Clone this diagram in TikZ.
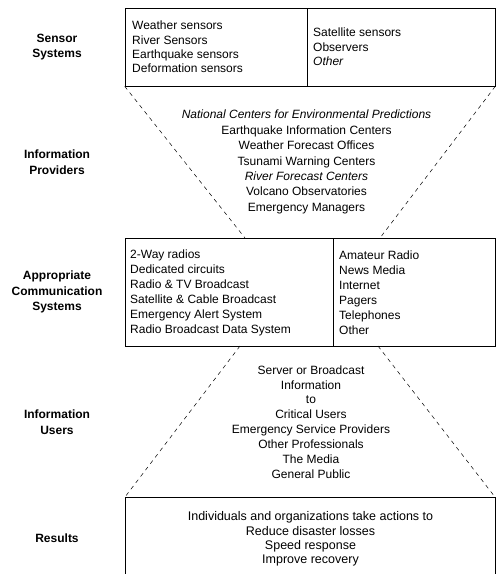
\documentclass[tikz,border=0pt]{standalone}
\usepackage{fontspec}
\setmainfont{Liberation Sans}
\begin{document}
\begin{tikzpicture}[x=1pt,y=-1pt,
  box/.style={draw, line width=0.6pt, inner sep=0pt},
  conn/.style={line width=0.5pt, dash pattern=on 4pt off 4pt},
  rowlabel/.style={font=\fontsize{12}{15.5}\selectfont\bfseries, align=center, inner sep=0pt},
  listtxt/.style={font=\fontsize{12}{14.4}\selectfont, align=left, inner sep=0pt, anchor=west},
  commtxt/.style={font=\fontsize{12}{15}\selectfont, align=left, inner sep=0pt, anchor=west},
  midtxt/.style={font=\fontsize{12}{15.2}\selectfont, align=center, inner sep=0pt}]
\useasboundingbox (0,0) rectangle (499,574);
% boxes
\node[box, minimum width=370pt, minimum height=78pt] (sensors) at (310,47) {};
\draw[line width=0.6pt] (307,8) -- (307,86);
\node[box, minimum width=370pt, minimum height=108pt] (comms) at (310,292) {};
\draw[line width=0.6pt] (333,238) -- (333,346);
\coordinate (resNW) at (125,497);
\coordinate (resNE) at (495,497);
\draw[line width=0.6pt] (125,574) -- (resNW) -- (resNE) -- (495,574);
% connector ends
\coordinate (pL) at (245,238);
\coordinate (pR) at (380,238);
\coordinate (uL) at (240,346);
\coordinate (uR) at (378,346);
\draw[conn] (sensors.south west) -- (pL);
\draw[conn] (sensors.south east) -- (pR);
\draw[conn] (uL) -- (resNW);
\draw[conn] (uR) -- (resNE);
% row labels
\node[rowlabel] (lab1) at (57,47) {Sensor\\Systems};
\node[rowlabel] (lab2) at (57,162) {Information\\Providers};
\node[rowlabel] (lab3) at (57,292) {Appropriate\\Communication\\Systems};
\node[rowlabel] (lab4) at (57,422) {Information\\Users};
\node[rowlabel] (lab5) at (57,538) {Results};
% sensor lists
\node[listtxt] (s1) at (132,47) {Weather sensors\\River Sensors\\Earthquake sensors\\Deformation sensors};
\node[listtxt] (s2) at (313,47) {Satellite sensors\\Observers\\\textit{Other}};
% providers
\node[midtxt, font=\fontsize{12}{15.4}\selectfont] (prov) at (306.5,162) {\textit{National Centers for Environmental Predictions}\\Earthquake Information Centers\\Weather Forecast Offices\\Tsunami Warning Centers\\\textit{River Forecast Centers}\\Volcano Observatories\\Emergency Managers};
% comms lists
\node[commtxt] (c1) at (130,292.5) {2-Way radios\\Dedicated circuits\\Radio \& TV Broadcast\\Satellite \& Cable Broadcast\\Emergency Alert System\\Radio Broadcast Data System};
\node[commtxt] (c2) at (339,292.5) {Amateur Radio\\News Media\\Internet\\Pagers\\Telephones\\Other};
% users
\node[midtxt, font=\fontsize{12}{14.9}\selectfont] (users) at (311,422) {Server or Broadcast\\Information\\to\\Critical Users\\Emergency Service Providers\\Other Professionals\\The Media\\General Public};
% results
\node[midtxt, font=\fontsize{12.5}{14.2}\selectfont] (res) at (310.5,539) {Individuals and organizations take actions to\\Reduce disaster losses\\Speed response\\Improve recovery};
\end{tikzpicture}
\end{document}
